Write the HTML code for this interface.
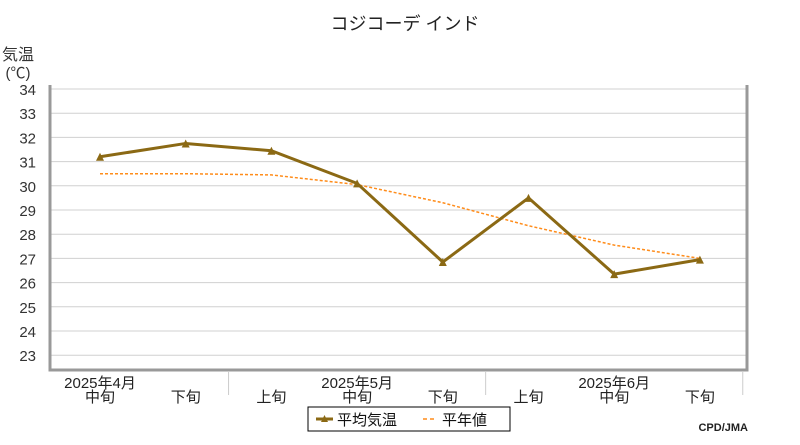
<!DOCTYPE html>
<html><head><meta charset="utf-8"><style>
body{margin:0;background:#fff;width:800px;height:440px;overflow:hidden}
text{font-family:"Liberation Sans","Noto Sans CJK JP",sans-serif}
</style></head><body>
<svg id="c" width="800" height="440">
<text x="405" y="30" font-size="18" text-anchor="middle" fill="#222">コジコーデ インド</text>
<text x="18" y="60" font-size="16" text-anchor="middle" fill="#333">気温</text>
<text x="18" y="78" font-size="15" text-anchor="middle" fill="#333">(℃)</text>
<g id="grid"></g><g id="ylab"></g><g id="xlab"></g><g id="series"></g>
<path d="M50 85 L50 370 L747 370 L747 85" fill="none" stroke="#999" stroke-width="3"/>
<g>
<rect x="308" y="407" width="202" height="24" fill="#fff" stroke="#000" stroke-width="1"/>
<line x1="316" y1="419" x2="333" y2="419" stroke="#8B6914" stroke-width="3"/>
<path d="M321 422 L324.5 415 L328 422 Z" fill="#8B6914"/>
<text x="337" y="425" font-size="15" fill="#111">平均気温</text>
<line x1="423" y1="419" x2="437" y2="419" stroke="#FF8C1A" stroke-width="1.5" stroke-dasharray="4,3"/>
<text x="442" y="425" font-size="15" fill="#111">平年値</text>
</g>
<text x="748" y="431" font-size="11" font-weight="bold" text-anchor="end" fill="#222" font-family="Liberation Mono">CPD/JMA</text>
</svg>
<script>
const categories=["中旬","下旬","上旬","中旬","下旬","上旬","中旬","下旬"];
const months=["2025年4月","2025年5月","2025年6月"];
const meanTemp=[31.2,31.75,31.45,30.1,26.85,29.5,26.35,26.95];
const normalTemp=[30.5,30.5,30.45,30.05,29.3,28.35,27.55,27.0];
const yTicks=[23,24,25,26,27,28,29,30,31,32,33,34];
const NS="http://www.w3.org/2000/svg";
const X=i=>100+i*85.7;
const Y=v=>89+(34-v)*24.2;
function mk(t,a,p){const e=document.createElementNS(NS,t);for(const k in a)e.setAttribute(k,a[k]);p.appendChild(e);return e;}
const grid=document.getElementById('grid'),ylab=document.getElementById('ylab'),xlab=document.getElementById('xlab'),ser=document.getElementById('series');
yTicks.forEach(v=>{
 const l=mk('line',{x1:50,x2:747,y1:Y(v),y2:Y(v),stroke:'#d0d0d0','stroke-width':1},grid);
 
 
 const t=mk('text',{x:36,y:Y(v)+6,'font-size':15,'text-anchor':'end',fill:'#333'},ylab);
 t.textContent=v;
 
 
});
categories.forEach((c,i)=>{
 const t=mk('text',{x:X(i),y:402,'font-size':15,'text-anchor':'middle',fill:'#222'},xlab);
 t.textContent=c;
 
 
});
months.forEach((m,j)=>{
 const t=mk('text',{x:X(j*3),y:388,'font-size':15,'text-anchor':'middle',fill:'#222'},xlab);
 t.textContent=m;
 
 
 const s=mk('line',{x1:X(j*3+1.5),x2:X(j*3+1.5),y1:372,y2:395,stroke:'#ccc'},xlab);
 
 
});
const np=mk('polyline',{points:normalTemp.map((v,i)=>X(i)+','+Y(v)).join(' '),fill:'none',stroke:'#FF8C1A','stroke-width':1.5,'stroke-dasharray':'3,2'},ser);


const mp=mk('polyline',{points:meanTemp.map((v,i)=>X(i)+','+Y(v)).join(' '),fill:'none',stroke:'#8B6914','stroke-width':3},ser);


meanTemp.forEach((v,i)=>{
 const x=X(i),y=Y(v);
 const m=mk('path',{d:`M${x-4} ${y+4} L${x} ${y-4} L${x+4} ${y+4} Z`,fill:'#8B6914'},ser);
 
 
});
</script>
</body></html>
